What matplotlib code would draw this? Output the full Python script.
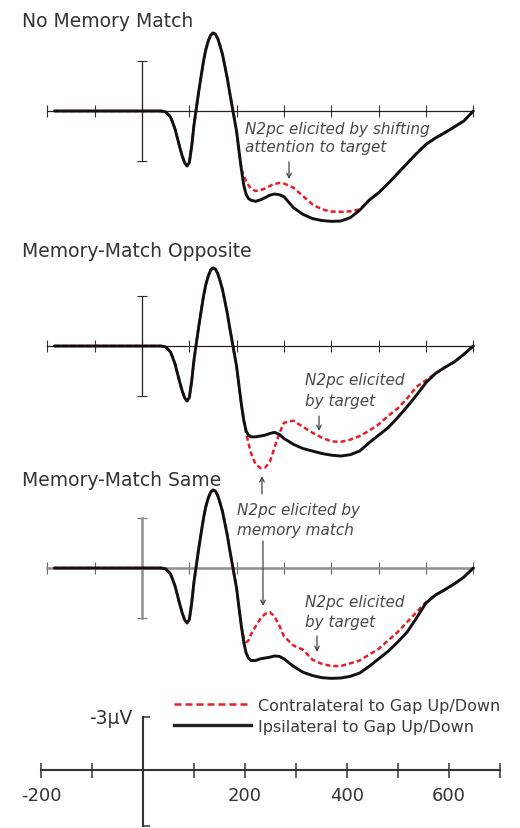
#!/usr/bin/env python3
""" Contra/ipsilateral ERP waveforms for the three memory-match conditions.
"""
import matplotlib
matplotlib.use('Agg')
import matplotlib.pyplot as plt
from matplotlib.lines import Line2D

# shared part of all waveforms (ms, microvolts, negative plotted up)
t_early_ms = [-185, -100, 0, 30, 40, 50, 60, 65, 70, 75, 80, 85, 90, 95, 100,
              105, 110, 115, 120, 125, 130, 135, 140, 145, 150, 155, 160, 165,
              170, 175, 180, 185, 190, 195, 200, 205]
uv_early = [0, 0, 0, 0, 0.0, 0.05, 0.35, 0.7, 1.1, 1.65, 2.2, 2.7, 3.1, 3.3,
            3.1, 2.1, 0.8, -0.2, -1.2, -2.1, -3.0, -3.7, -4.2, -4.55, -4.68,
            -4.62, -4.35, -3.9, -3.4, -2.7, -2.0, -1.15, -0.35, 0.45, 1.25, 2.4]

t_late_ms = [210, 215, 220, 225, 230, 240, 250, 260, 270, 280, 290, 300, 320,
             340, 360, 380, 400, 420, 440, 460, 480, 500, 520, 540, 560, 580,
             600, 620, 640, 660, 680, 700]

ipsi_no_match = [3.5, 4.45, 5.0, 5.25, 5.35, 5.42, 5.33, 5.2, 5.05, 4.98, 5.02,
                 5.14, 5.8, 6.2, 6.45, 6.57, 6.62, 6.6, 6.4, 5.95, 5.35, 4.9,
                 4.35, 3.75, 3.15, 2.55, 2.0, 1.62, 1.3, 0.95, 0.6, 0.0]
contra_no_match = [3.45, 3.9, 4.2, 4.45, 4.65, 4.8, 4.75, 4.65, 4.5, 4.37, 4.32,
                   4.35, 4.6, 5.1, 5.6, 5.9, 6.03, 6.05, 6.02, 5.9, 5.35, 4.9,
                   4.35, 3.75, 3.15, 2.55, 2.0, 1.62, 1.3, 0.95, 0.6, 0.0]

ipsi_opposite = [3.5, 4.45, 5.1, 5.35, 5.45, 5.45, 5.4, 5.35, 5.25, 5.18, 5.3,
                 5.55, 5.9, 6.15, 6.3, 6.45, 6.55, 6.6, 6.52, 6.3, 5.8, 5.35,
                 4.9, 4.3, 3.65, 2.95, 2.2, 1.65, 1.28, 0.95, 0.5, 0.0]
contra_opposite = [3.5, 4.5, 5.2, 5.85, 6.4, 7.1, 7.32, 7.3, 6.95, 6.1, 5.25,
                   4.6, 4.48, 4.85, 5.2, 5.5, 5.72, 5.75, 5.62, 5.4, 5.08, 4.7,
                   4.2, 3.75, 3.15, 2.45, 2.05, 1.65, 1.28, 0.95, 0.5, 0.0]

ipsi_same = [3.5, 4.45, 5.1, 5.4, 5.55, 5.55, 5.45, 5.4, 5.35, 5.28, 5.3, 5.45,
             5.9, 6.25, 6.45, 6.58, 6.62, 6.6, 6.5, 6.3, 5.9, 5.45, 5.0, 4.45,
             3.85, 3.0, 2.1, 1.62, 1.3, 0.95, 0.55, 0.0]
contra_same = [3.5, 4.2, 4.45, 4.35, 4.0, 3.5, 3.05, 2.75, 2.65, 2.9, 3.45, 4.1,
               4.65, 4.9, 5.5, 5.75, 5.88, 5.88, 5.72, 5.55, 5.2, 4.85, 4.35,
               3.85, 3.25, 2.65, 2.05, 1.62, 1.3, 0.95, 0.55, 0.0]

titles = ['No Memory Match', 'Memory-Match Opposite', 'Memory-Match Same']
legend_labels = ['Contralateral to Gap Up/Down', 'Ipsilateral to Gap Up/Down']
xticks_ms = list(range(-200, 701, 100))
scale_labels = ['-200', '', '', '', '200', '', '400', '', '600', '']

RED = '#e3202a'
BLACK = '#111111'
W, H = 520, 829

fig = plt.figure(figsize=(W / 100, H / 100), dpi=100)


def make_axes(top, bottom, zero_x, zero_y, px_ms, px_uv):
    """Axes over pixel rows top..bottom, 0 ms at zero_x and 0 uV at zero_y."""
    ax = fig.add_axes([0, 1 - bottom / H, 1, (bottom - top) / H])
    ax.set_xlim(-zero_x / px_ms, (W - zero_x) / px_ms)
    ax.set_ylim((bottom - zero_y) / px_uv, (top - zero_y) / px_uv)
    ax.patch.set_visible(False)
    ax.spines['top'].set_visible(False)
    ax.spines['right'].set_visible(False)
    ax.spines['bottom'].set_position(('data', 0))
    ax.spines['left'].set_position(('data', 0))
    ax.spines['bottom'].set_bounds(-200, 700)
    ax.set_xticks(xticks_ms)
    return ax


def annotate_lines(ax, x, y0, lines, step):
    for i, s in enumerate(lines):
        ax.text(x, y0 + i * step, s, fontsize=11, style='italic',
                color='#484848', va='baseline', ha='left')


def arrow(ax, x, y_from, y_to):
    ax.annotate('', xy=(x, y_to), xytext=(x, y_from), annotation_clip=False,
                arrowprops=dict(arrowstyle='->', color='#444444', lw=0.9,
                                mutation_scale=8, shrinkA=0, shrinkB=0))


panels = [
    (ipsi_no_match, contra_no_match, 0, 240, 112, 27, '#222222', 0.9),
    (ipsi_opposite, contra_opposite, 240, 480, 347, 257, '#222222', 0.9),
    (ipsi_same, contra_same, 460, 690, 569, 486, '#8f8f8f', 1.8),
]
axes = []
for k, (ipsi, contra, top, bottom, zy, title_y, acol, alw) in enumerate(panels):
    ax = make_axes(top, bottom, 142, zy, 0.4733, 16.67)
    ax.spines['left'].set_bounds(-3, 3)
    for s in ('bottom', 'left'):
        ax.spines[s].set_color(acol)
        ax.spines[s].set_linewidth(alw)
    ax.set_yticks([-3, 3])
    ax.tick_params(axis='x', direction='inout', length=8.6, width=0.8,
                   color='#333333' if k < 2 else '#666666', labelbottom=False)
    ax.tick_params(axis='y', direction='inout', length=6.5, width=0.8,
                   color='#333333' if k < 2 else '#777777', labelleft=False)
    ax.plot(t_early_ms + t_late_ms, uv_early + contra, color=RED, lw=1.8,
            dashes=(2.0, 1.2), clip_on=False, zorder=3)
    ax.plot(t_early_ms + t_late_ms, uv_early + ipsi, color=BLACK, lw=2.1,
            solid_capstyle='round', solid_joinstyle='round', clip_on=False,
            zorder=4)
    fig.text(22 / W, 1 - title_y / H, titles[k], fontsize=13.5, color='#333333',
             va='baseline', ha='left')
    axes.append(ax)

# annotations
ax1, ax2, ax3 = axes
annotate_lines(ax1, 217.6, 1.32, ['N2pc elicited by shifting', 'attention to target'], 1.08)
arrow(ax1, 310.6, 3.06, 4.08)
annotate_lines(ax2, 344.4, 2.28, ['N2pc elicited', 'by target'], 1.26)
arrow(ax2, 374, 4.2, 5.1)
annotate_lines(ax3, 200.7, -3.24, ['N2pc elicited by', 'memory match'], 1.2)
arrow(ax3, 253.5, -4.44, -5.52)
arrow(ax3, 255.6, -1.62, 2.28)
annotate_lines(ax3, 344.4, 2.28, ['N2pc elicited', 'by target'], 1.2)
arrow(ax3, 369.7, 4.08, 5.04)

# calibration axes with legend
axs = make_axes(690, 829, 143, 771, 0.51, 17.67)
axs.spines['left'].set_bounds(-3, 3.15)
for s in ('bottom', 'left'):
    axs.spines[s].set_color('#333333')
    axs.spines[s].set_linewidth(1.5)
axs.set_yticks([-3, 3.15])
axs.set_xticklabels(scale_labels)
axs.tick_params(axis='x', direction='inout', length=10.8, width=1.1,
                color='#333333', pad=6, labelsize=13, labelcolor='#333333')
axs.tick_params(axis='y', direction='in', length=5, width=1.1,
                color='#333333', labelleft=False)
axs.text(-20, -2.66, '-3μV', fontsize=13.5, color='#333333', ha='right',
         va='baseline')

handles = [Line2D([], [], color=RED, lw=1.8, dashes=(2.8, 1.6)),
           Line2D([], [], color='#222222', lw=2.4)]
axs.legend(handles, legend_labels, loc='upper left',
           bbox_to_anchor=(174 / W, 1 - 699 / H), bbox_transform=fig.transFigure,
           frameon=False, fontsize=11.5, handlelength=4.8, handletextpad=0.45,
           labelspacing=0.35, borderpad=0, borderaxespad=0, labelcolor='#3a3a3a')

fig.savefig('out.png', dpi=100)
